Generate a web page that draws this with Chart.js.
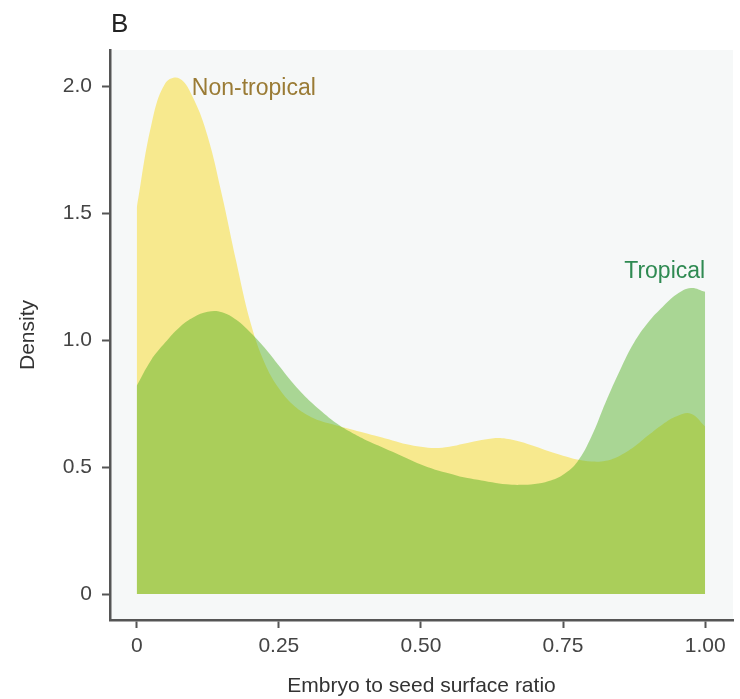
<!DOCTYPE html>
<html>
<head>
<meta charset="utf-8">
<script src="https://cdn.jsdelivr.net/npm/chart.js@4.4.1/dist/chart.umd.min.js"></script>
<style>
  html, body { margin: 0; padding: 0; background: #fff; }
  #wrap { width: 740px; height: 699px; }
</style>
</head>
<body>
<div id="wrap"><canvas id="densityChart" width="740" height="699"></canvas></div>
<script>
// 밀도 곡선 (그림에서 읽은 값, 0.025 간격)
const ratioX = [0, 0.025, 0.05, 0.075, 0.1, 0.125, 0.15, 0.175, 0.2, 0.225, 0.25, 0.275, 0.3, 0.325, 0.35, 0.375, 0.4, 0.425, 0.45, 0.475, 0.5,
  0.525, 0.55, 0.575, 0.6, 0.625, 0.65, 0.675, 0.7, 0.725, 0.75, 0.775, 0.8, 0.825, 0.85, 0.875, 0.9, 0.925, 0.95, 0.975, 1.0];
const nonTropical = [1.52, 1.84, 2.01, 2.03, 1.95, 1.80, 1.57, 1.31, 1.07, 0.91, 0.81, 0.745, 0.705, 0.68, 0.665, 0.65, 0.635, 0.62, 0.605, 0.59, 0.58,
  0.575, 0.58, 0.592, 0.604, 0.613, 0.612, 0.60, 0.582, 0.562, 0.545, 0.53, 0.522, 0.525, 0.545, 0.58, 0.625, 0.668, 0.70, 0.71, 0.66];
const tropical = [0.82, 0.92, 0.99, 1.05, 1.09, 1.112, 1.11, 1.08, 1.03, 0.97, 0.90, 0.83, 0.77, 0.72, 0.675, 0.64, 0.61, 0.585, 0.56, 0.535, 0.51,
  0.49, 0.475, 0.46, 0.45, 0.44, 0.432, 0.43, 0.433, 0.445, 0.47, 0.52, 0.62, 0.755, 0.88, 0.99, 1.07, 1.13, 1.18, 1.205, 1.19];

const xTicks = [0, 0.25, 0.5, 0.75, 1];
const xTickLabels = ["0", "0.25", "0.50", "0.75", "1.00"];
const yTicks = [0, 0.5, 1, 1.5, 2];
const yTickLabels = ["0", "0.5", "1.0", "1.5", "2.0"];

const toPoints = (ys) => ratioX.map((x, i) => ({ x: x, y: ys[i] }));

// 패널 배경 + 라벨
const panelPlugin = {
  id: "panel",
  beforeDraw(chart) {
    const { ctx, chartArea: a } = chart;
    ctx.save();
    ctx.fillStyle = "#f6f8f8";
    ctx.fillRect(a.left, a.top, a.right - a.left, a.bottom - a.top);
    ctx.restore();
  },
  afterDraw(chart) {
    const { ctx } = chart;
    const xs = chart.scales.x, ys = chart.scales.y;
    ctx.save();
    ctx.font = "26px 'Liberation Sans', Arial, sans-serif";
    ctx.fillStyle = "#222";
    ctx.textBaseline = "alphabetic";
    ctx.fillText("B", 111, 32);
    ctx.font = "23px 'Liberation Sans', Arial, sans-serif";
    ctx.fillStyle = "#9a7b35";
    ctx.textBaseline = "middle";
    ctx.textAlign = "left";
    ctx.fillText("Non-tropical", xs.getPixelForValue(0.097), ys.getPixelForValue(1.99));
    ctx.fillStyle = "#2f8a52";
    ctx.textAlign = "right";
    ctx.fillText("Tropical", xs.getPixelForValue(1.0), ys.getPixelForValue(1.27));
    ctx.restore();
  },
};

const ctx = document.getElementById("densityChart").getContext("2d");
new Chart(ctx, {
  type: "line",
  data: {
    datasets: [
      {
        label: "Tropical",
        data: toPoints(tropical),
        backgroundColor: "rgba(75,172,26,0.45)",
        borderWidth: 0,
        pointRadius: 0,
        fill: "origin",
        tension: 0.4,
      },
      {
        label: "Non-tropical",
        data: toPoints(nonTropical),
        backgroundColor: "rgb(247,233,142)",
        borderWidth: 0,
        pointRadius: 0,
        fill: "origin",
        tension: 0.4,
      },
    ],
  },
  options: {
    responsive: false,
    animation: false,
    layout: { padding: { top: 50, right: 7, left: 0, bottom: 0 } },
    plugins: {
      legend: { display: false },
      tooltip: { enabled: false },
    },
    scales: {
      x: {
        type: "linear",
        min: -0.047,
        max: 1.049,
        afterBuildTicks: (s) => { s.ticks = xTicks.map((v) => ({ value: v })); },
        afterFit: (s) => { s.height = 79; },
        ticks: {
          callback: (v) => xTickLabels[xTicks.indexOf(v)],
          color: "#444",
          font: { family: "'Liberation Sans', Arial", size: 21 },
          padding: 6,
          maxRotation: 0,
        },
        grid: { drawOnChartArea: false, drawTicks: true, tickLength: 8, tickWidth: 2, color: "#555" },
        border: { display: true, color: "#555", width: 2.5 },
        title: {
          display: true,
          text: "Embryo to seed surface ratio",
          color: "#333",
          font: { family: "'Liberation Sans', Arial", size: 21 },
          padding: { top: 6, bottom: 0 },
        },
      },
      y: {
        min: -0.102,
        max: 2.142,
        afterBuildTicks: (s) => { s.ticks = yTicks.map((v) => ({ value: v })); },
        afterFit: (s) => { s.width = 110; },
        ticks: {
          callback: (v) => yTickLabels[yTicks.indexOf(v)],
          color: "#444",
          font: { family: "'Liberation Sans', Arial", size: 21 },
          padding: 10,
        },
        grid: { drawOnChartArea: false, drawTicks: true, tickLength: 8, tickWidth: 2, color: "#555" },
        border: { display: true, color: "#555", width: 2.5 },
        title: {
          display: true,
          text: "Density",
          color: "#333",
          font: { family: "'Liberation Sans', Arial", size: 21 },
          padding: { top: 16, bottom: 0 },
        },
      },
    },
  },
  plugins: [panelPlugin],
});
</script>
</body>
</html>
